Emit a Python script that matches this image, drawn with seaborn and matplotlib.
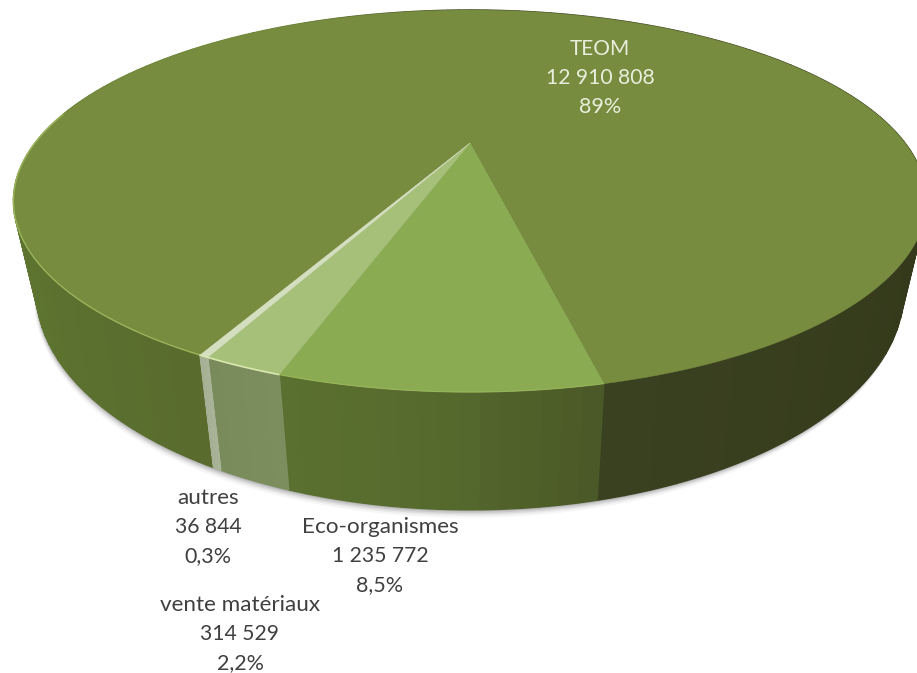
"""
camembert 3D des recettes : TEOM / eco-organismes / vente materiaux / autres
"""
import numpy as np
import matplotlib
matplotlib.use('Agg')
import matplotlib.pyplot as plt
import seaborn as sns

sns.set_theme(style='white')
plt.rcParams['font.family'] = ['Lato', 'DejaVu Sans']

# donnees
labels = ['TEOM', 'Eco-organismes', 'vente matériaux', 'autres']
values = [12910808, 1235772, 314529, 36844]
pct_labels = ['89%', '8,5%', '2,2%', '0,3%']

# couleurs
top_colors = ['#778C3F', '#8AAB52', '#A6C07A', '#D3DFBE']
wall_right_stops = ['#3A4120', '#33391A', '#33391A', '#33391A']
wall_left_stops = ['#33391A', '#6B8737', '#658033', '#5E7530', '#596C2E']
wall_stops = {1: ['#5A7030', '#566A2D', '#4A5927'],
              2: ['#7A8B5B', '#7C8E5E'],
              3: ['#A5AF93', '#A9B398']}

fig, ax = plt.subplots(figsize=(9.17, 6.73), dpi=100)
fig.subplots_adjust(0, 0, 1, 1)
ax.set_xlim(0, 917)
ax.set_ylim(673, 0)
ax.axis('off')


# perspective : cercle unite -> ellipse de l'image
# theta = 0 devant (en bas), positif vers la droite
def rim(theta, dy=0.0, sx=1.0):
    t = np.radians(theta)
    u, v = np.sin(t), np.cos(t)
    w = 1 - 0.3037 * v
    return 470 + sx * 435 * u / w, (143 + 130 * v + dy) / w


def bottom(theta):
    return rim(theta, dy=82, sx=0.95)


# bornes des parts, en tournant dans le sens horaire depuis TEOM
shares = np.array(values) / sum(values) * 360
eco_start = 12.5
ends = eco_start - np.cumsum(shares[1:])
bounds = [(ends[-1] + 360, eco_start),
          (eco_start, ends[0]),
          (ends[0], ends[1]),
          (ends[1], ends[2])]

# ombre sous le socle
for grow, alpha in zip([8, 6, 4.5, 3, 1.5], [0.05, 0.07, 0.1, 0.14, 0.2]):
    th = np.linspace(0, 360, 361)
    x, y = rim(th, dy=82 + grow * 0.7, sx=0.95)
    ax.fill(x - grow * 0.3, y, color='#555555', alpha=alpha, lw=0, zorder=1)


# paroi laterale en bandes verticales
def draw_wall(th0, th1, colors, n=24):
    edges = np.linspace(th0, th1, n + 1)
    pal = sns.blend_palette(colors, n)
    for i in range(n):
        th = np.linspace(edges[i], edges[i + 1], 6)
        xt, yt = rim(th)
        xb, yb = bottom(th)
        ax.fill(np.r_[xt, xb[::-1]], np.r_[yt, yb[::-1]], color=pal[i],
                ec=pal[i], lw=1.0, zorder=2)


draw_wall(eco_start, 180, wall_right_stops, n=60)
draw_wall(180, bounds[0][0], wall_left_stops, n=80)
for k in [1, 2, 3]:
    draw_wall(bounds[k][1], bounds[k][0], wall_stops[k], n=16)

# dessus du camembert
for k, (th0, th1) in enumerate(bounds):
    th = np.linspace(th0, th1, 300 if k == 0 else 40)
    x, y = rim(th)
    ax.fill(np.r_[470, x], np.r_[143, y], color=top_colors[k],
            ec=top_colors[k], lw=0.3, zorder=3)

# liseres clairs le long du bord
th = np.linspace(-100, bounds[3][1], 60)
ax.plot(*rim(th), color='#A5C063', lw=1.0, alpha=0.8, zorder=4)
th = np.linspace(bounds[3][1], bounds[2][0], 30)
ax.plot(*rim(th), color='#D9E8AE', lw=1.2, zorder=4)
th = np.linspace(bounds[1][1], bounds[1][0], 30)
ax.plot(*rim(th), color='#A5C063', lw=0.8, alpha=0.7, zorder=4)

# etiquettes
text_pos = [(600, 49, '#E9EEDC'), (380, 527, '#404040'),
            (240, 605, '#404040'), (208, 498, '#404040')]
name_sizes = [15, 16.2, 16.2, 16.2]
for lab, val, pct, (x, y, col), fs in zip(labels, values, pct_labels, text_pos, name_sizes):
    val_txt = f'{val:,}'.replace(',', ' ')
    ax.text(x, y, lab, ha='center', va='center', fontsize=fs, color=col, zorder=5)
    ax.text(x, y + 29, val_txt, ha='center', va='center', fontsize=15.2, color=col, zorder=5)
    ax.text(x, y + 58, pct, ha='center', va='center', fontsize=15.5, color=col, zorder=5)

fig.savefig('out.png', dpi=100)
